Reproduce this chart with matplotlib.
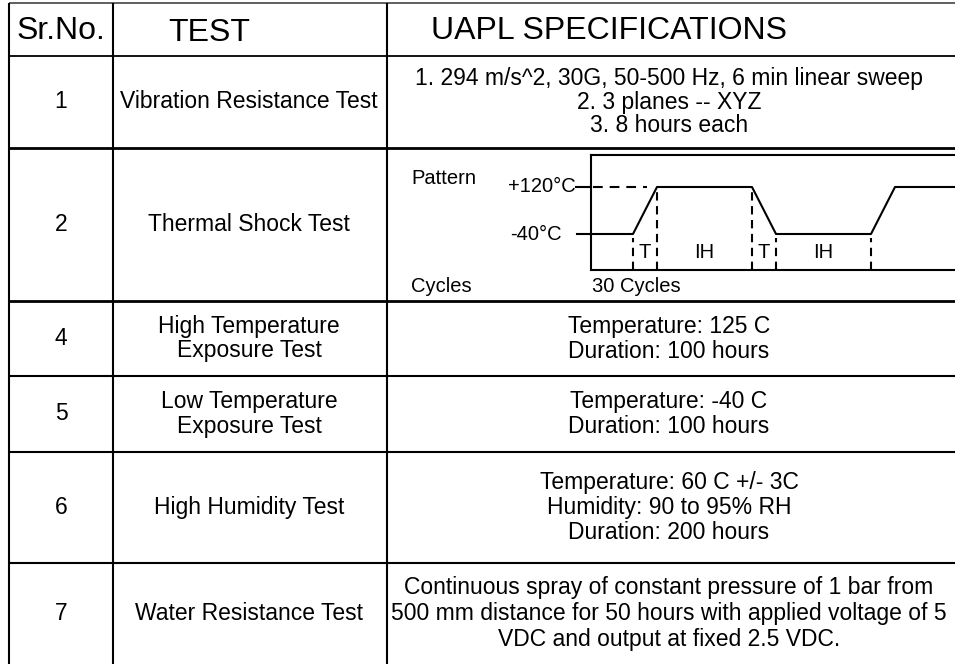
import matplotlib
matplotlib.use("Agg")
import matplotlib.pyplot as plt

plt.rcParams['font.family'] = ['Liberation Sans', 'DejaVu Sans']
plt.rcParams['lines.scale_dashes'] = False

# ---- table content ----
headers = ["Sr.No.", "TEST", "UAPL SPECIFICATIONS"]
sr_nos = ["1", "2", "4", "5", "6", "7"]
tests = [["Vibration Resistance Test"],
         ["Thermal Shock Test"],
         ["High Temperature", "Exposure Test"],
         ["Low Temperature", "Exposure Test"],
         ["High Humidity Test"],
         ["Water Resistance Test"]]
specs = [["1. 294 m/s^2, 30G, 50-500 Hz, 6 min linear sweep", "2. 3 planes -- XYZ", "3. 8 hours each"],
         [],
         ["Temperature: 125 C", "Duration: 100 hours"],
         ["Temperature: -40 C", "Duration: 100 hours"],
         ["Temperature: 60 C +/- 3C", "Humidity: 90 to 95% RH", "Duration: 200 hours"],
         ["Continuous spray of constant pressure of 1 bar from",
          "500 mm distance for 50 hours with applied voltage of 5",
          "VDC and output at fixed 2.5 VDC."]]

# ---- thermal shock pattern ----
profile_time = [-14, 42, 66, 161, 185, 280, 304, 370]
profile_temp = [-40, -40, 120, 120, -40, -40, 120, 120]
temp_labels = ["+120°C", "-40°C"]
temp_levels = [120, -40]
phase_marks = [42, 66, 161, 185, 280]
phase_labels = ["T", "IH", "T", "IH"]
cycles_label = "30 Cycles"

W, H = 955, 664
fig = plt.figure(figsize=(W / 100, H / 100), dpi=100)
ax = fig.add_axes([0, 0, 1, 1])
ax.set_xlim(0, W)
ax.set_ylim(H, 0)
ax.axis('off')

col_edges = [9, 113, 387, 955]
top_y = 3
row_edges = [56, 148, 301, 376, 452, 563, 664]
row_lw = [1.3, 2.0, 2.0, 1.5, 1.5, 1.5]

# grid lines
ax.plot([col_edges[0], W], [top_y, top_y], color='#444444', lw=1.2, solid_capstyle='butt')
for y, lw in zip(row_edges[:-1], row_lw):
    ax.plot([col_edges[0], W], [y, y], color='black', lw=lw, solid_capstyle='butt')
for x in col_edges[:3]:
    ax.plot([x, x], [top_y, H], color='black', lw=1.5, solid_capstyle='butt')

body_fs = 16.5
head_fs = 23

# headers
ax.text(61, 31, headers[0], fontsize=head_fs, ha='center', va='center')
ax.text(168, 33, headers[1], fontsize=head_fs, ha='left', va='center')
ax.text(431, 31, headers[2], fontsize=head_fs, ha='left', va='center')

col1_c = (col_edges[0] + col_edges[1]) / 2
col2_c = (col_edges[1] + col_edges[2]) / 2 - 1
col3_c = 669
spacing = [23, 25, 25, 25, 25, 26]

for i in range(len(sr_nos)):
    yc = (row_edges[i] + row_edges[i + 1]) / 2
    ax.text(col1_c, yc, sr_nos[i], fontsize=body_fs, ha='center', va='center')
    n = len(tests[i])
    for j, t in enumerate(tests[i]):
        ax.text(col2_c, yc + (j - (n - 1) / 2) * spacing[i], t,
                fontsize=body_fs, ha='center', va='center')
    n = len(specs[i])
    for j, t in enumerate(specs[i]):
        ax.text(col3_c, yc + (j - (n - 1) / 2) * spacing[i], t,
                fontsize=body_fs, ha='center', va='center')

# thermal diagram
box_l, box_t, box_b = 591, 155, 270
y120, ym40 = 187, 234
k = (temp_levels[0] - temp_levels[1]) / (ym40 - y120)
ylo = temp_levels[1] - (box_b - ym40) * k
yhi = temp_levels[0] + (y120 - box_t) * k
iax = fig.add_axes([box_l / W, 1 - box_b / H, (W - box_l) / W, (box_b - box_t) / H])
iax.set_xlim(0, W - box_l)
iax.set_ylim(ylo, yhi)
iax.set_xticks([])
iax.set_yticks([])
iax.patch.set_alpha(0)
for s in ['left', 'top', 'bottom']:
    iax.spines[s].set_linewidth(1.5)
iax.spines['right'].set_visible(False)

diag_fs = 14.5
iax.plot(profile_time, profile_temp, color='black', lw=1.5, clip_on=False)
# short tick from +120 label to box
iax.plot([-15, 0], [temp_levels[0], temp_levels[0]], color='black', lw=1.5, clip_on=False)
# dashed +120 reference
iax.plot([2, 56], [temp_levels[0], temp_levels[0]], color='black', lw=1.5,
         linestyle=(0, (7, 5)))
# phase markers
for t in phase_marks:
    idx = None
    lvl = None
    for a in range(len(profile_time) - 1):
        if profile_time[a] <= t <= profile_time[a + 1]:
            t0, t1 = profile_time[a], profile_time[a + 1]
            v0, v1 = profile_temp[a], profile_temp[a + 1]
            lvl = v0 + (v1 - v0) * (t - t0) / (t1 - t0) if t1 != t0 else v0
            break
    iax.plot([t, t], [ylo, lvl - 12], color='black', lw=1.5, linestyle=(0, (6, 4)))

lab_y = temp_levels[0] - (253 - y120) * k
for a, lab in enumerate(phase_labels):
    xc = (phase_marks[a] + phase_marks[a + 1]) / 2
    iax.text(xc, lab_y, lab, fontsize=diag_fs, ha='center', va='center')

for lab, lvl, ypx in zip(temp_labels, temp_levels, [y120, ym40]):
    ax.text(576 if lab.startswith('+') else 562, ypx, lab, fontsize=diag_fs,
            ha='right', va='center')

ax.text(411, 178, "Pattern", fontsize=diag_fs, ha='left', va='center')
ax.text(411, 286, "Cycles", fontsize=diag_fs, ha='left', va='center')
ax.text(592, 286, cycles_label, fontsize=diag_fs, ha='left', va='center')

fig.savefig("out.png", dpi=100)
